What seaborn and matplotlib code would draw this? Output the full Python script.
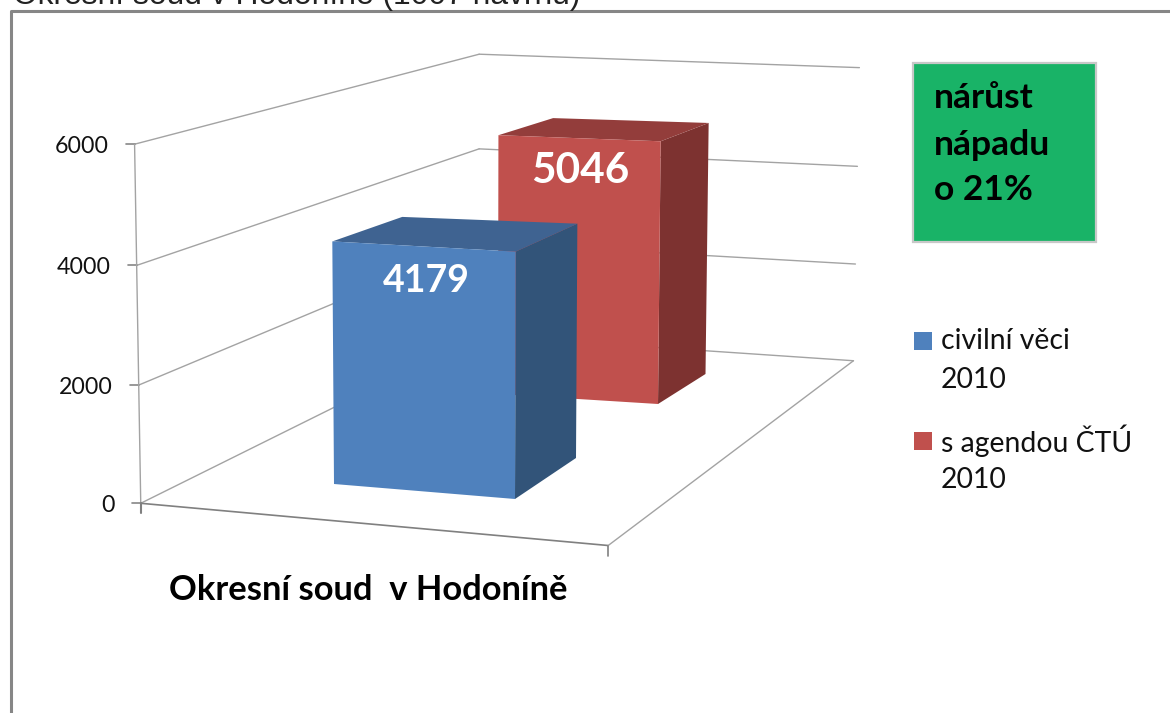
import numpy as np
import pandas as pd
import matplotlib
matplotlib.use("Agg")
import matplotlib.pyplot as plt
from matplotlib.patches import Polygon, Rectangle
from matplotlib.lines import Line2D
from matplotlib.transforms import Affine2D, Transform
import seaborn as sns

categories = ["Okresní soud  v Hodoníně"]
series = ["civilní věci\n2010", "s agendou ČTÚ\n2010"]
values = [4179, 5046]
y_ticks = [0, 2000, 4000, 6000]
title = "Okresní soud v Hodoníně (1007 návrhů)"
note = ["nárůst", "nápadu", "o 21%"]

sns.set_theme(style="white")
plt.rcParams["font.family"] = ["Lato", "DejaVu Sans"]

W, H = 1170, 713
fig = plt.figure(figsize=(W / 100, H / 100), dpi=100, facecolor="white")
ax = fig.add_axes([0, 0, 1, 1])
ax.axis("off")
PX = Affine2D().scale(1, -1).translate(0, H)   # image-pixel coordinates

# camera of the 3-D box fitted to its visible corners (u, v, height) -> pixel
corr = [((0, 0, 0), (141.5, 503)), ((1, 0, 0), (608, 546)), ((1, 1, 0), (854, 360)),
        ((0, 1, 0), (478, 336)), ((0, 0, 6000), (134, 144)), ((0, 1, 6000), (480, 54)),
        ((1, 1, 6000), (859, 68))]
A, b = [], []
for (u, v, h), (x, y) in corr:
    h = h / 6000
    A.append([u, v, h, 1, 0, 0, 0, 0, -x * u, -x * v, -x * h]); b.append(x)
    A.append([0, 0, 0, 0, u, v, h, 1, -y * u, -y * v, -y * h]); b.append(y)
p = np.linalg.lstsq(np.array(A, float), np.array(b, float), rcond=None)[0]
P = np.append(p, 1).reshape(3, 4)


def project(u, v, h):
    u, v, h = np.broadcast_arrays(u, v, h)
    q = np.stack([u, v, h / 6000, np.ones_like(u, dtype=float)], -1) @ P.T
    return q[..., :2] / q[..., 2:]


def floor_uv(x, y):
    F = P[:, [0, 1, 3]]
    q = np.linalg.solve(F, [x, y, 1])
    return q[:2] / q[2]


class FaceTransform(Transform):
    """Maps a seaborn bar rectangle (x, value) on to the front face of a 3-D column."""
    input_dims = output_dims = 2

    def __init__(self, x0, w, a, c):
        super().__init__()
        self.x0, self.w, self.a, self.c = x0, w, a, c

    def transform_non_affine(self, xy):
        xy = np.asarray(xy, float)
        t = (xy[:, 0] - self.x0) / self.w
        u = self.a[0] + t * (self.c[0] - self.a[0])
        v = self.a[1] + t * (self.c[1] - self.a[1])
        return project(u, v, xy[:, 1])


df = pd.DataFrame({"soud": categories * 2, "serie": series, "napad": values})
front_cols = ["#4F81BD", "#C0504D"]
side_cols = ["#325479", "#7D3230"]
top_cols = ["#3F6391", "#933D3B"]
sns.barplot(data=df, x="soud", y="napad", hue="serie", palette=front_cols, saturation=1,
            legend=False, ax=ax, linewidth=0, edgecolor="none")
ax.axis("off")

# footprint of each column on the floor: front-left, front-right, back-right, back-left
foot_px = [[(334, 484), (515, 499), (576, 458), (403, 448)],
           [(498, 394), (658, 404), (705.5, 374), (552, 366)]]
bars = [b for b in ax.patches if b.get_height() > 0]
for i, bar in enumerate(bars):
    val = bar.get_height()
    fl, fr, br, bl = [floor_uv(*pt) for pt in foot_px[i]]
    z = 3 + i * (-1)  # the red column stands behind the blue one
    bar.set_transform(FaceTransform(bar.get_x(), bar.get_width(), fl, fr) + PX)
    bar.set_clip_on(False)
    bar.set_zorder(z + 0.2)
    quad = lambda a, c, d, e: np.array([project(*a, d), project(*c, d), project(*c, e), project(*a, e)])
    ax.add_patch(Polygon(quad(fr, br, val, 0), closed=True, fc=side_cols[i], lw=0, transform=PX, zorder=z + 0.1, clip_on=False))
    ax.add_patch(Polygon(np.array([project(*q, val) for q in (fl, fr, br, bl)]), closed=True, fc=top_cols[i], lw=0,
                         transform=PX, zorder=z + 0.15, clip_on=False))

GRID = "#A3A3A3"


def seg(a, c, color=GRID, lw=1.0, z=1):
    ax.add_line(Line2D([a[0], c[0]], [a[1], c[1]], color=color, lw=lw, transform=PX, zorder=z, clip_on=False))


for t in y_ticks:
    fl_, bl_, br_ = project(0, 0, t), project(0, 1, t), project(1, 1, t)
    seg(fl_, bl_)
    seg(bl_, br_)
    seg(fl_ + np.array([-9, 0]), fl_, color="#868686", lw=1.2)
    ax.text(fl_[0] - 26, fl_[1] + 2, str(t), ha="right", va="center", fontsize=16.7, color="#111111",
            transform=PX, zorder=6)
seg(project(0, 0, 0), project(0, 0, 6000))
seg(project(0, 0, 0), project(1, 0, 0), color="#808080", lw=1.2)
seg(project(1, 0, 0), project(1, 1, 0))
seg(project(0, 0, 0), project(0, 0, 0) + np.array([0, 10]), color="#808080", lw=1.5)
seg(project(1, 0, 0), project(1, 0, 0) + np.array([0, 10]), color="#808080", lw=1.2)

# data labels
label_pos = [((426, 281), 27), ((580, 171), 30.5)]
for val, (xy, fs) in zip(values, label_pos):
    ax.text(*xy, str(val), color="white", fontweight="bold", fontsize=fs, ha="center", va="center",
            transform=PX, zorder=7)

ax.text(368, 590, categories[0], fontweight="bold", fontsize=24.8, ha="center", va="center", color="black",
        transform=PX, zorder=6)

# outer frame and cropped heading
ax.add_line(Line2D([11, 11, W], [H, 11, 11], color="#868686", lw=2.2, transform=PX, clip_on=False, zorder=5))
ax.text(13, 4, title, fontsize=22.9, family=["Liberation Sans", "DejaVu Sans"], ha="left", va="baseline",
        color="#222222", transform=PX, zorder=6)

# note box
ax.add_patch(Rectangle((913, 63), 183, 179, fc="#19B367", ec="#C8C8C8", lw=1.6, transform=PX, zorder=5, clip_on=False))
for line, y in zip(note, (98, 145, 190)):
    ax.text(934, y, line, fontweight="bold", fontsize=25.5, ha="left", va="center", color="black", transform=PX, zorder=6)

# legend
for name, col, y in zip(series, front_cols, (332, 432)):
    ax.add_patch(Rectangle((914, y), 18, 17.5, fc=col, lw=0, transform=PX, zorder=6, clip_on=False))
    l1, l2 = name.split("\n")
    ax.text(941, y + 9, l1, fontsize=20.4, ha="left", va="center", color="#111111", transform=PX, zorder=6)
    ax.text(941, y + 48, l2, fontsize=20.4, ha="left", va="center", color="#111111", transform=PX, zorder=6)

fig.savefig("out.png", dpi=100, facecolor="white")
